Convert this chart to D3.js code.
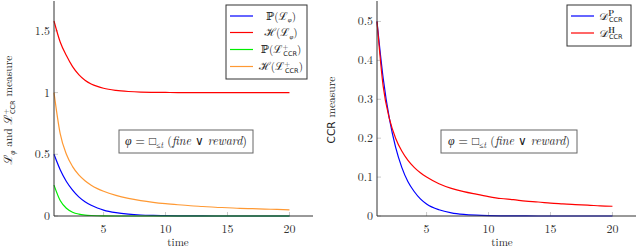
<!DOCTYPE html>
<html>
<head>
<meta charset="utf-8">
<script src="https://cdn.jsdelivr.net/npm/d3@7/dist/d3.min.js"></script>
<style>
  body { margin: 0; background: #fff; }
  text, tspan {
    font-family: "Latin Modern Roman", "CMU Serif", "Liberation Serif", "DejaVu Serif",
      "Noto Serif", "Nimbus Roman", FreeSerif, "Times New Roman", serif;
    fill: #222;
  }
  .tick-label { font-size: 12px; fill: #333; }
  tspan.sans { font-family: "DejaVu Sans", "Liberation Sans", sans-serif; }
</style>
</head>
<body>
<svg id="chart" width="638" height="248"></svg>
<script>
"use strict";

// time steps (half steps early on, where the curves bend hard)
var time = [1, 1.5, 2, 2.5, 3, 3.5, 4, 4.5, 5, 6, 7, 8, 9, 10, 11, 12, 13, 14, 15, 16, 17, 18, 19, 20];

// left panel series
var probPhi = [0.5, 0.375, 0.28, 0.21, 0.155, 0.116, 0.087, 0.065, 0.048, 0.027, 0.015, 0.008,
  0.0046, 0.0026, 0.0014, 0.0008, 0.0004, 0.0002, 0.0001, 0, 0, 0, 0, 0];
var entPhi = [1.58, 1.41, 1.30, 1.21, 1.145, 1.10, 1.07, 1.05, 1.035, 1.018, 1.009, 1.004,
  1.002, 1.001, 1, 1, 1, 1, 1, 1, 1, 1, 1, 1];
var probCcr = [0.25, 0.125, 0.0625, 0.031, 0.0156, 0.0078, 0.0039, 0.002, 0.001, 0.0002, 0, 0,
  0, 0, 0, 0, 0, 0, 0, 0, 0, 0, 0, 0];
var entCcr = [1, 0.667, 0.5, 0.4, 0.333, 0.286, 0.25, 0.222, 0.2, 0.167, 0.143, 0.125,
  0.111, 0.1, 0.091, 0.083, 0.077, 0.071, 0.067, 0.062, 0.059, 0.056, 0.053, 0.05];

// right panel series
var dProb = [0.5, 0.354, 0.25, 0.177, 0.125, 0.088, 0.063, 0.044, 0.031, 0.016, 0.008, 0.004,
  0.002, 0.001, 0.0005, 0.0002, 0.0001, 0, 0, 0, 0, 0, 0, 0];
var dEnt = [0.5, 0.333, 0.25, 0.2, 0.167, 0.143, 0.125, 0.111, 0.1, 0.083, 0.071, 0.0625,
  0.056, 0.05, 0.045, 0.042, 0.038, 0.036, 0.033, 0.031, 0.029, 0.028, 0.026, 0.025];

var xTicks = [5, 10, 15, 20];
var yTicksLeft = [0, 0.5, 1, 1.5];
var yTicksRight = [0, 0.1, 0.2, 0.3, 0.4, 0.5];

var svg = d3.select("#chart");

// writes a label made of pieces: {t, it, size, dx, dy, cls, bold}
function richText(sel, parts) {
  parts.forEach(function(p) {
    var ts = sel.append("tspan").text(p.t);
    if (p.cls) ts.attr("class", p.cls);
    if (p.it) ts.style("font-style", "italic");
    if (p.bold) ts.style("font-weight", "bold");
    if (p.size) ts.style("font-size", p.size);
    if (p.dy) ts.attr("dy", p.dy);
    if (p.dx) ts.attr("dx", p.dx);
  });
}

function ccrLabel(head, tail) {
  var parts = [{ t: head }, { t: "+", size: "7.5px", dy: -4 },
    { t: "CCR", cls: "sans", size: "6.5px", dx: -5, dy: 6.5 }];
  if (tail) parts.push({ t: tail, dy: -2.5 });
  return parts;
}

function drawPanel(opts) {
  var g = svg.append("g");
  var x = d3.scaleLinear().domain([1, 21.9]).range([opts.left, opts.right]);
  var y = d3.scaleLinear().domain([0, opts.yMax]).range([216, 2]);

  // tick marks (inside, light)
  g.selectAll(".xt").data(xTicks).enter().append("line")
    .attr("x1", function(d) { return x(d); }).attr("x2", function(d) { return x(d); })
    .attr("y1", 216).attr("y2", 212).attr("stroke", "#bbb").attr("stroke-width", 0.8);
  g.selectAll(".yt").data(opts.yTicks).enter().append("line")
    .attr("x1", opts.left).attr("x2", opts.left + 4)
    .attr("y1", function(d) { return y(d); }).attr("y2", function(d) { return y(d); })
    .attr("stroke", "#bbb").attr("stroke-width", 0.8);

  g.selectAll(".xl").data(xTicks).enter().append("text")
    .attr("class", "tick-label").attr("text-anchor", "middle")
    .attr("x", function(d) { return x(d); }).attr("y", 233)
    .text(function(d) { return d; });
  g.selectAll(".yl").data(opts.yTicks).enter().append("text")
    .attr("class", "tick-label").attr("text-anchor", "end")
    .attr("x", opts.left - 4).attr("y", function(d) { return y(d) + 4; })
    .text(function(d) { return d3.format("~g")(d); });

  var line = d3.line()
    .x(function(d, i) { return x(time[i]); })
    .y(function(d) { return y(d); })
    .curve(d3.curveMonotoneX);

  opts.series.forEach(function(s) {
    g.append("path").datum(s.values)
      .attr("fill", "none").attr("stroke", s.color).attr("stroke-width", 1.2)
      .attr("d", line);
  });

  // axis lines
  g.append("line").attr("x1", opts.left).attr("x2", opts.left)
    .attr("y1", 216).attr("y2", 1).attr("stroke", "#333").attr("stroke-width", 1);
  g.append("line").attr("x1", opts.left).attr("x2", opts.right)
    .attr("y1", 216).attr("y2", 216).attr("stroke", "#333").attr("stroke-width", 1);

  // axis titles
  g.append("text").attr("text-anchor", "middle").style("font-size", "11px")
    .attr("x", opts.timeX).attr("y", 246).text("time");
  var yl = g.append("text").attr("text-anchor", "middle").style("font-size", "11.5px")
    .attr("transform", "translate(" + opts.yLabelX + ",110) rotate(-90)");
  richText(yl, opts.yLabel);

  // annotation box
  var ab = opts.annot;
  g.append("rect").attr("x", ab.x).attr("y", 130).attr("width", ab.w).attr("height", 23)
    .attr("fill", "#fff").attr("stroke", "#666").attr("stroke-width", 1);
  var at = g.append("text").attr("text-anchor", "middle").style("font-size", "12px")
    .attr("x", ab.x + ab.w / 2).attr("y", 145);
  richText(at, [
    { t: "φ", it: true },
    { t: " = □" },
    { t: "≤", size: "8px", dy: 3 },
    { t: "t", it: true, size: "8px" },
    { t: " (", dy: -3 },
    { t: "fine", it: true },
    { t: " ∨ " },
    { t: "reward", it: true },
    { t: ")" }
  ]);

  // legend
  var lg = opts.legend;
  g.append("rect").attr("x", lg.x).attr("y", 5).attr("width", lg.w).attr("height", lg.h)
    .attr("fill", "#fff").attr("stroke", "#333").attr("stroke-width", 1);
  opts.series.forEach(function(s, i) {
    var ry = lg.rows[i];
    g.append("line").attr("x1", lg.x + 4).attr("x2", lg.x + 27)
      .attr("y1", ry).attr("y2", ry).attr("stroke", s.color).attr("stroke-width", 1.2);
    var t = g.append("text").style("font-size", "11px")
      .attr("x", lg.x + lg.textX).attr("y", ry + 3.5).attr("text-anchor", "middle");
    richText(t, s.label);
  });
}

drawPanel({
  left: 54, right: 313, yMax: 1.734,
  yTicks: yTicksLeft, timeX: 178, yLabelX: 12,
  yLabel: [
    { t: "ℒ", it: true }, { t: "φ", it: true, size: "7.5px", dy: 2.5 }, { t: " and ", dy: -2.5 }
  ].concat(ccrLabel("ℒ", " measure")),
  annot: { x: 119, w: 134 },
  legend: { x: 226, w: 81, h: 74, rows: [16, 32.5, 49.5, 66.5], textX: 55 },
  series: [
    { values: probPhi, color: "#0000ff",
      label: [{ t: "ℙ(ℒ" }, { t: "φ", it: true, size: "7px", dy: 2.5 }, { t: ")", dy: -2.5 }] },
    { values: entPhi, color: "#ff0000",
      label: [{ t: "ℋ(ℒ" }, { t: "φ", it: true, size: "7px", dy: 2.5 }, { t: ")", dy: -2.5 }] },
    { values: probCcr, color: "#00ee00", label: ccrLabel("ℙ(ℒ", ")") },
    { values: entCcr, color: "#ff9933", label: ccrLabel("ℋ(ℒ", ")") }
  ]
});

drawPanel({
  left: 377, right: 636, yMax: 0.55,
  yTicks: yTicksRight, timeX: 502, yLabelX: 335,
  yLabel: [{ t: "CCR", cls: "sans", size: "10.5px" }, { t: " measure" }],
  annot: { x: 441, w: 136 },
  legend: { x: 567, w: 64, h: 41, rows: [16, 33], textX: 44 },
  series: [
    { values: dProb, color: "#0000ff",
      label: [{ t: "𝒟" }, { t: "P", bold: true, size: "7.5px", dy: -4 },
        { t: "CCR", cls: "sans", size: "6.5px", dx: -5, dy: 6.5 }] },
    { values: dEnt, color: "#ff0000",
      label: [{ t: "𝒟" }, { t: "H", bold: true, size: "7.5px", dy: -4 },
        { t: "CCR", cls: "sans", size: "6.5px", dx: -6, dy: 6.5 }] }
  ]
});
</script>
</body>
</html>
